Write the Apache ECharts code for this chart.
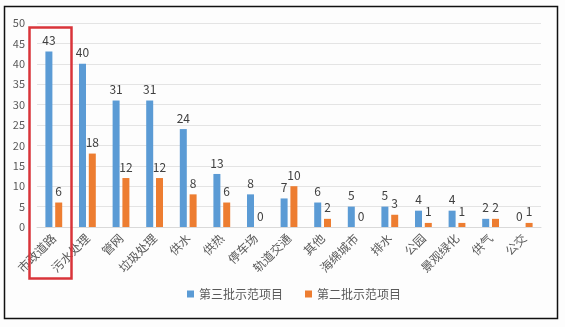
<!DOCTYPE html>
<html><head><meta charset="utf-8">
<script src="https://cdn.jsdelivr.net/npm/echarts@6/dist/echarts.min.js"></script>
<style>html,body{margin:0;padding:0;background:#fff}#c{width:565px;height:327px}</style>
</head><body><div id="c"></div>
<script>
var categories = ['市政道路','污水处理','管网','垃圾处理','供水','供热','停车场','轨道交通','其他','海绵城市','排水','公园','景观绿化','供气','公交'];
var seriesNames = ['第三批示范项目','第二批示范项目'];
var batch3 = [43,40,31,31,24,13,8,7,6,5,5,4,4,2,0];
var batch2 = [6,18,12,12,8,6,0,10,2,0,3,1,1,2,1];
var yTicks = [0,5,10,15,20,25,30,35,40,45,50];

var chart = echarts.init(document.getElementById('c'), null, {renderer:'canvas'});
var font = '"Noto Sans CJK SC", "Noto Sans", sans-serif';
chart.setOption({
  backgroundColor: '#fdfdfd',
  animation: false,
  textStyle: {fontFamily: font},
  grid: {left: 37, right: 24, top: 23, bottom: 100, containLabel: false},
  legend: {
    data: seriesNames, bottom: 22, left: 182,
    itemWidth: 7, itemHeight: 7, itemGap: 22,
    icon: 'rect',
    textStyle: {color: '#595959', fontSize: 12, fontFamily: font}
  },
  xAxis: {
    type: 'category', data: categories,
    axisLine: {lineStyle: {color: '#d9d9d9'}},
    axisTick: {show: false},
    axisLabel: {rotate: 45, color: '#595959', fontSize: 12, interval: 0, margin: 9, fontFamily: font}
  },
  yAxis: {
    type: 'value', min: yTicks[0], max: yTicks[yTicks.length-1], interval: 5,
    axisLine: {show: false}, axisTick: {show: false},
    axisLabel: {color: '#595959', fontSize: 11, margin: 12},
    splitLine: {lineStyle: {color: '#e4e4e4'}}
  },
  series: [
    {name: seriesNames[0], type: 'bar', data: batch3, barWidth: 7, barGap: '40%',
     itemStyle: {color: '#5B9BD5'},
     label: {show: true, position: 'top', color: '#404040', fontSize: 12, distance: 5}},
    {name: seriesNames[1], type: 'bar', data: batch2, barWidth: 7,
     itemStyle: {color: '#ED7D31'},
     label: {show: true, position: 'top', color: '#404040', fontSize: 12, distance: 5}}
  ],
  graphic: [
    {type: 'rect', shape: {x: 4.5, y: 6.5, width: 553, height: 312}, style: {fill: null, stroke: '#111', lineWidth: 1.5}, z: 100},
    {type: 'rect', shape: {x: 29.5, y: 27.5, width: 42, height: 251}, style: {fill: null, stroke: '#d9343a', lineWidth: 2.5}, z: 100}
  ]
});
</script></body></html>
